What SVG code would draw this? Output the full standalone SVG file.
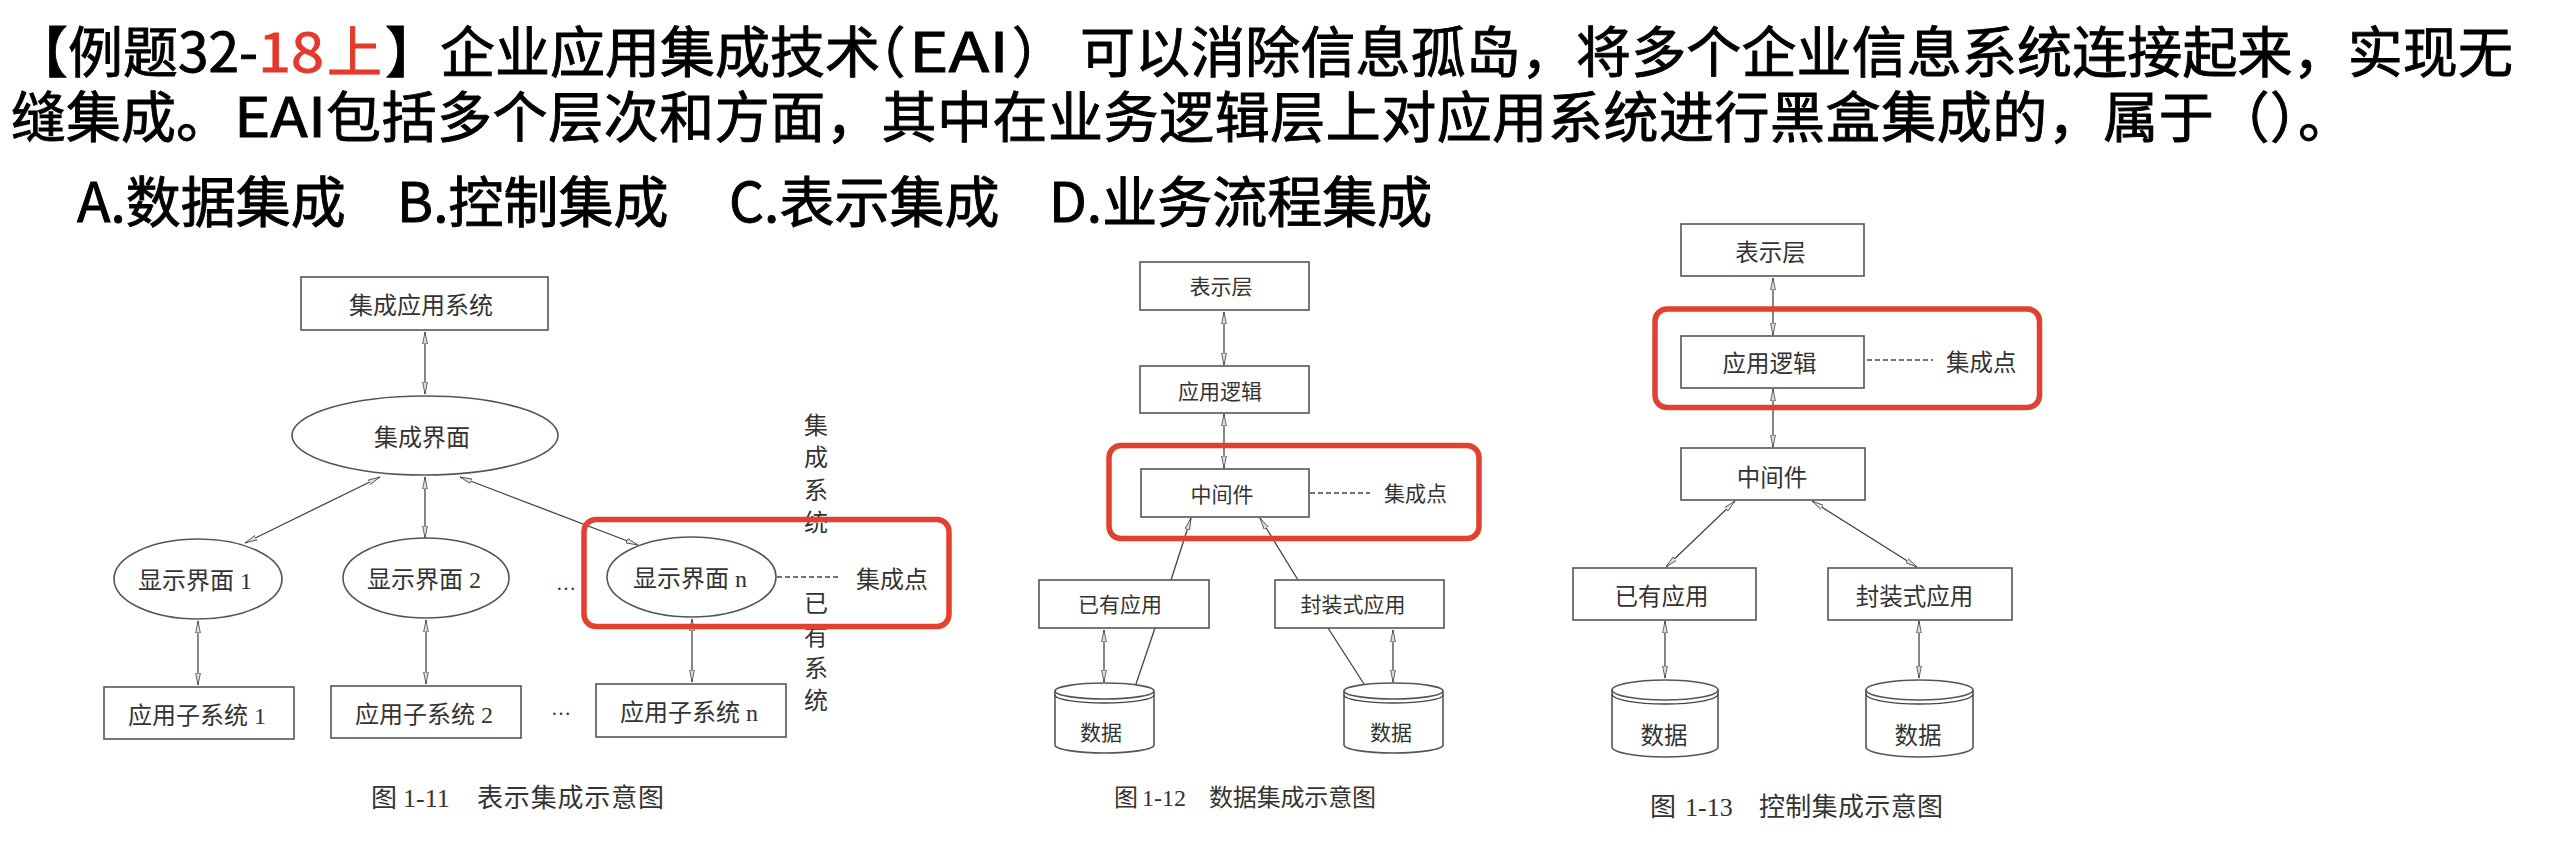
<svg xmlns="http://www.w3.org/2000/svg" width="2550" height="842" viewBox="0 0 2550 842">
<style>
.t{font-family:"Noto Sans CJK SC","Noto Sans",sans-serif;font-size:55px;fill:#000;stroke:#000;stroke-width:0.9px}
.red{fill:#e5392c;stroke:#e5392c}
.halt{font-feature-settings:"halt"}
.d{font-family:"Liberation Serif","Noto Sans CJK SC",serif;fill:#333}
.f1{font-size:24px}
.f2{font-size:21px}
.f3{font-size:23.5px}
.c{text-anchor:middle}
.box{fill:#fff;stroke:#555;stroke-width:1.6}
.ln{stroke:#444;stroke-width:1.3;fill:none}
.ar{stroke:#444;stroke-width:1.3;fill:none;marker-end:url(#ah)}
.ar2{stroke:#444;stroke-width:1.3;fill:none;marker-start:url(#ah);marker-end:url(#ah)}
.dash{stroke:#444;stroke-width:1.3;stroke-dasharray:5 3;fill:none}
.hl{fill:none;stroke:#e4402f;stroke-width:5.5}
</style>
<defs>
<marker id="ah" viewBox="0 0 12 6" refX="12" refY="3" markerWidth="12" markerHeight="6" markerUnits="userSpaceOnUse" orient="auto-start-reverse">
<path d="M0,0.6 L12,3 L0,5.4 z" fill="#ddd" stroke="#444" stroke-width="0.8"/>
</marker>
</defs>
<rect width="2550" height="842" fill="#fff"/>

<g id="question">
<text class="t" x="13" y="72">【例题32-</text>
<text class="t red" x="258" y="72" textLength="66" lengthAdjust="spacingAndGlyphs">18</text>
<text class="t red" x="327" y="72">上</text>
<text class="t" x="385" y="72">】企业应用集成技术</text>
<text class="t halt" x="878" y="72">（</text>
<text class="t" x="909" y="72" textLength="100" lengthAdjust="spacingAndGlyphs">EAI</text>
<text class="t halt" x="1012" y="72">）</text>
<text class="t" x="1080" y="72" textLength="1433" lengthAdjust="spacing">可以消除信息孤岛，将多个企业信息系统连接起来，实现无</text>
<text class="t" x="11" y="137">缝集成。</text>
<text class="t" x="234" y="137" textLength="92" lengthAdjust="spacingAndGlyphs">EAI</text>
<text class="t" x="326" y="137" textLength="2027" lengthAdjust="spacing">包括多个层次和方面，其中在业务逻辑层上对应用系统进行黑盒集成的，属于（）。</text>
<text class="t" x="77" y="222">A.数据集成</text>
<text class="t" x="397" y="222">B.控制集成</text>
<text class="t" x="729" y="222">C.表示集成</text>
<text class="t" x="1049" y="222">D.业务流程集成</text>
</g>

<!-- Figure 1-11 -->
<g id="fig1-connectors">
<line class="ar2" x1="425" y1="332" x2="425" y2="394"/>
<line class="ar2" x1="380" y1="477" x2="245" y2="543"/>
<line class="ar2" x1="425" y1="477" x2="425" y2="538"/>
<line class="ar2" x1="460" y1="477" x2="638" y2="545"/>
<line class="ar2" x1="198" y1="621" x2="198" y2="685"/>
<line class="ar2" x1="426" y1="620" x2="426" y2="684"/>
<line class="ar2" x1="692" y1="619" x2="692" y2="682"/>
<line class="dash" x1="777" y1="577" x2="839" y2="577"/>
</g>
<g id="f1-top"><rect class="box" x="301" y="277" width="247" height="53"/><text class="d f1 c" x="421" y="313.6">集成应用系统</text></g>
<g id="f1-ui"><ellipse class="box" cx="425" cy="435.5" rx="133" ry="39.5"/><text class="d f1 c" x="422" y="445.6">集成界面</text></g>
<g id="f1-d1"><ellipse class="box" cx="198" cy="579" rx="84" ry="40"/><text class="d f1 c" x="195" y="588.6">显示界面 1</text></g>
<g id="f1-d2"><ellipse class="box" cx="426" cy="578" rx="83" ry="40"/><text class="d f1 c" x="424" y="587.6">显示界面 2</text></g>
<g id="f1-dn"><ellipse class="box" cx="691.5" cy="577" rx="84.5" ry="40"/><text class="d f1 c" x="690" y="586.6">显示界面 n</text></g>
<g id="f1-s1"><rect class="box" x="104" y="687" width="190" height="52"/><text class="d f1 c" x="197" y="723.6">应用子系统 1</text></g>
<g id="f1-s2"><rect class="box" x="331" y="686" width="190" height="52"/><text class="d f1 c" x="424" y="722.6">应用子系统 2</text></g>
<g id="f1-sn"><rect class="box" x="596" y="684" width="190" height="53"/><text class="d f1 c" x="689" y="720.6">应用子系统 n</text></g>
<g id="f1-labels">
<text class="d c" style="font-size:20px" x="566" y="590">…</text>
<text class="d c" style="font-size:20px" x="561" y="715">…</text>
<text class="d f1" x="856" y="587.6">集成点</text>
<text class="d f1 c" x="816" y="433.6">集</text>
<text class="d f1 c" x="816" y="465.6">成</text>
<text class="d f1 c" x="816" y="498.6">系</text>
<text class="d f1 c" x="816" y="530.6">统</text>
<text class="d f1 c" x="816" y="611.6">已</text>
<text class="d f1 c" x="816" y="644.6">有</text>
<text class="d f1 c" x="816" y="676.6">系</text>
<text class="d f1 c" x="816" y="708.6">统</text>
<text class="d" style="font-size:26px" x="371" y="807">图</text>
<text class="d" style="font-size:26px" x="403" y="807">1-11</text>
<text class="d" style="font-size:26px" x="477" y="807" textLength="187" lengthAdjust="spacing">表示集成示意图</text>
</g>
<rect id="f1-highlight" class="hl" x="584" y="519.5" width="365" height="107" rx="12"/>

<!-- Figure 1-12 -->
<g id="fig2-connectors">
<line class="ar2" x1="1224" y1="312" x2="1224" y2="365"/>
<line class="ar2" x1="1224" y1="414" x2="1224" y2="468"/>
<line class="ar" x1="1171" y1="580" x2="1191" y2="518"/>
<line class="ar" x1="1298" y1="580" x2="1260" y2="518"/>
<line class="ar2" x1="1104" y1="630" x2="1104" y2="682"/>
<line class="ln" x1="1155" y1="628" x2="1136" y2="684"/>
<line class="ln" x1="1328" y1="628" x2="1364" y2="684"/>
<line class="ar2" x1="1393" y1="630" x2="1393" y2="682"/>
<line class="dash" x1="1310" y1="493" x2="1370" y2="493"/>
</g>
<g id="f2-pres"><rect class="box" x="1140" y="262" width="169" height="48"/><text class="d f2 c" x="1221" y="293.6">表示层</text></g>
<g id="f2-logic"><rect class="box" x="1140" y="366" width="169" height="47"/><text class="d f2 c" x="1220" y="399">应用逻辑</text></g>
<g id="f2-mid"><rect class="box" x="1141" y="469" width="168" height="48"/><text class="d f2 c" x="1222" y="501.6">中间件</text></g>
<g id="f2-app1"><rect class="box" x="1039" y="580" width="170" height="48"/><text class="d f2 c" x="1120" y="611.6">已有应用</text></g>
<g id="f2-app2"><rect class="box" x="1275" y="580" width="169" height="48"/><text class="d f2 c" x="1353" y="611.6">封装式应用</text></g>
<g id="f2-db1">
<path class="box" d="M1055,691 L1055,745 A49.5,8 0 0 0 1154,745 L1154,691"/>
<ellipse class="box" cx="1104.5" cy="691" rx="49.5" ry="8"/>
<path class="ln" d="M1055,695 A49.5,8 0 0 0 1154,695"/>
<text class="d f2 c" x="1101" y="739.6">数据</text>
</g>
<g id="f2-db2">
<path class="box" d="M1344,691 L1344,745 A49.5,8 0 0 0 1443,745 L1443,691"/>
<ellipse class="box" cx="1393.5" cy="691" rx="49.5" ry="8"/>
<path class="ln" d="M1344,695 A49.5,8 0 0 0 1443,695"/>
<text class="d f2 c" x="1391" y="739.6">数据</text>
</g>
<g id="f2-labels">
<text class="d f2" x="1384" y="500.6">集成点</text>
<text class="d" style="font-size:24px" x="1114" y="805.6">图</text>
<text class="d" style="font-size:24px" x="1142" y="805.6">1-12</text>
<text class="d" style="font-size:24px" x="1209" y="805.6" textLength="167" lengthAdjust="spacing">数据集成示意图</text>
</g>
<rect id="f2-highlight" class="hl" x="1109" y="445.5" width="370" height="93" rx="12"/>

<!-- Figure 1-13 -->
<g id="fig3-connectors">
<line class="ar2" x1="1773" y1="278" x2="1773" y2="335"/>
<line class="ar2" x1="1773" y1="389" x2="1773" y2="447"/>
<line class="ar2" x1="1735" y1="501" x2="1666" y2="567"/>
<line class="ar2" x1="1812" y1="501" x2="1917" y2="567"/>
<line class="ar2" x1="1665" y1="621" x2="1665" y2="678"/>
<line class="ar2" x1="1919" y1="621" x2="1919" y2="678"/>
<line class="dash" x1="1867" y1="360" x2="1933" y2="360"/>
</g>
<g id="f3-pres"><rect class="box" x="1681" y="224" width="183" height="52"/><text class="d f3 c" x="1770.5" y="260.5">表示层</text></g>
<g id="f3-logic"><rect class="box" x="1681" y="336" width="183" height="52"/><text class="d f3 c" x="1769.5" y="371.5">应用逻辑</text></g>
<g id="f3-mid"><rect class="box" x="1681" y="448" width="184" height="52"/><text class="d f3 c" x="1772" y="485.5">中间件</text></g>
<g id="f3-app1"><rect class="box" x="1573" y="568" width="183" height="52"/><text class="d f3 c" x="1661.5" y="604.5">已有应用</text></g>
<g id="f3-app2"><rect class="box" x="1828" y="568" width="184" height="52"/><text class="d f3 c" x="1914.5" y="604.5">封装式应用</text></g>
<g id="f3-db1">
<path class="box" d="M1612,690 L1612,747 A53,10 0 0 0 1718,747 L1718,690"/>
<ellipse class="box" cx="1665" cy="690" rx="53" ry="10"/>
<path class="ln" d="M1612,694 A53,10 0 0 0 1718,694"/>
<text class="d f3 c" x="1664" y="743.5">数据</text>
</g>
<g id="f3-db2">
<path class="box" d="M1866,690 L1866,747 A53.5,10 0 0 0 1973,747 L1973,690"/>
<ellipse class="box" cx="1919.5" cy="690" rx="53.5" ry="10"/>
<path class="ln" d="M1866,694 A53.5,10 0 0 0 1973,694"/>
<text class="d f3 c" x="1918" y="743.5">数据</text>
</g>
<g id="f3-labels">
<text class="d f3" x="1946" y="370.5">集成点</text>
<text class="d" style="font-size:26px" x="1650" y="816.4">图</text>
<text class="d" style="font-size:26px" x="1685" y="816.4">1-13</text>
<text class="d" style="font-size:26px" x="1759" y="816.4" textLength="184" lengthAdjust="spacing">控制集成示意图</text>
</g>
<rect id="f3-highlight" class="hl" x="1655" y="309" width="384.5" height="98.5" rx="12"/>
</svg>
